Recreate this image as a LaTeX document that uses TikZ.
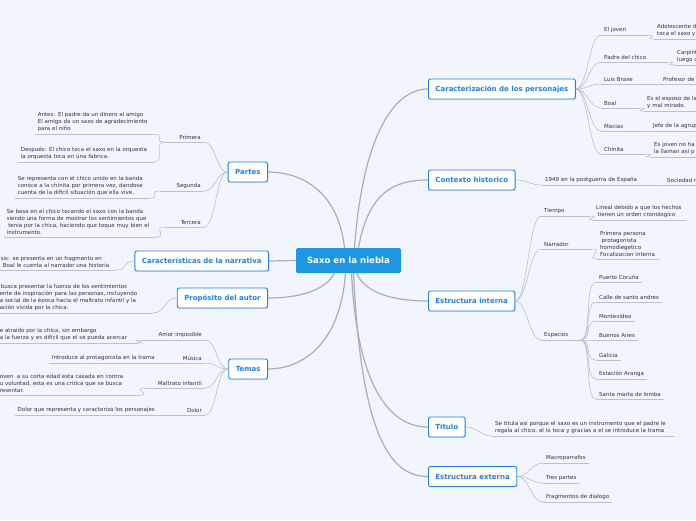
\documentclass[tikz,border=0pt]{standalone}
\usepackage{fontspec}
\setmainfont{DejaVu Sans}
\usetikzlibrary{shadows}
\definecolor{bgc}{RGB}{243,245,252}
\definecolor{lnc}{RGB}{190,192,198}
\definecolor{trc}{RGB}{172,174,180}
\definecolor{topicc}{RGB}{36,128,220}
\definecolor{cenc}{RGB}{30,150,226}
\definecolor{leafc}{RGB}{50,50,55}
\tikzset{
  cen/.style={fill=cenc,text=white,font=\fontsize{8.6}{10}\selectfont\bfseries,rounded corners=1.5pt,minimum width=105pt,minimum height=25pt},
  topic/.style={draw=topicc,fill=white,line width=0.9pt,text=topicc,font=\fontsize{7}{8.5}\selectfont\bfseries,rounded corners=2pt,minimum height=20pt,inner xsep=7pt,drop shadow={shadow xshift=0.4pt,shadow yshift=-0.8pt,opacity=0.2}},
  lnk/.style={draw=lnc,line width=0.6pt},
  trunk/.style={draw=trc,line width=1.2pt},
  leaf/.style={text=leafc,font=\fontsize{5.5}{7}\selectfont,align=left,inner xsep=3pt,inner ysep=2.3pt,append after command={(\tikzlastnode.south west) edge[lnk] (\tikzlastnode.south east)}},
  rb/.style={to path={.. controls +(12,0) and +(-12,0) .. (\tikztotarget)}},
  lb/.style={to path={.. controls +(-12,0) and +(12,0) .. (\tikztotarget)}},
}
\begin{document}
\begin{tikzpicture}[x=1pt,y=-1pt]
\fill[bgc](0,0)rectangle(696,520);\useasboundingbox(0,0)rectangle(696,520);
% main topics
\node[cen](cen)at(348.5,260.5){Saxo en la niebla};
\node[topic,anchor=west](car)at(428,89){Caracterización de los personajes};
\node[topic,anchor=west](ctx)at(428,180){Contexto historico};
\node[topic,anchor=west](ein)at(428,301){Estructura interna};
\node[topic,anchor=west](tit)at(428,427){Titulo};
\node[topic,anchor=west](eex)at(428,476.5){Estructura externa};
\node[topic,anchor=east](par)at(268,172){Partes};
\node[topic,anchor=east](nar)at(269,261){Características de la narrativa};
\node[topic,anchor=east](pro)at(268,298){Propósito del autor};
\node[topic,anchor=east](tem)at(268,369){Temas};
\draw[trunk]([xshift=6pt]cen.north)..controls +(8,-110) and +(-35,0)..(car.west);
\draw[trunk]([xshift=10pt]cen.north)..controls +(10,-55) and +(-35,0)..(ctx.west);
\draw[trunk]([xshift=-4pt]cen.north)..controls +(-6,-55) and +(35,0)..(par.east);
\draw[trunk](cen.west)--(nar.east);
\draw[trunk]([xshift=-14pt]cen.south)..controls +(-10,18) and +(30,0)..(pro.east);
\draw[trunk]([xshift=-3pt]cen.south)..controls +(-5,70) and +(35,0)..(tem.east);
\draw[trunk]([xshift=8pt]cen.south)..controls +(10,22) and +(-30,0)..(ein.west);
\draw[trunk]([xshift=3pt]cen.south)..controls +(6,120) and +(-35,0)..(tit.west);
\draw[trunk]([xshift=5pt]cen.south)..controls +(8,170) and +(-35,0)..(eex.west);
% Caracterizacion de los personajes
\node[leaf,anchor=south west,text width=41pt](joven)at(601,35){El joven};
\node[leaf,anchor=south west,text width=60pt](joven2)at(654,39){Adolescente d\\toca el saxo y};
\node[leaf,anchor=south west,text width=61pt](padre)at(601,62){Padre del chico};
\node[leaf,anchor=south west,text width=40pt](padre2)at(674,65){Carpint\\luego c};
\node[leaf,anchor=south west,text width=48pt](luis)at(601,84){Luis Braxe};
\node[leaf,anchor=south west,text width=50pt](luis2)at(660,84){Profesor de};
\node[leaf,anchor=south west,text width=33pt](boal)at(601,108){Boal};
\node[leaf,anchor=south west,text width=60pt](boal2)at(644,111){Es el esposo de la\\y mal mirado.};
\node[leaf,anchor=south west,text width=38pt](macias)at(601,131){Macias};
\node[leaf,anchor=south west,text width=60pt](macias2)at(650,131){Jefe de la agrup};
\node[leaf,anchor=south west,text width=39pt](chinita)at(601,154){Chinita};
\node[leaf,anchor=south west,text width=60pt](chinita2)at(651,157){Es joven no ha\\la llaman así p};
\foreach \n in {joven,padre,luis,boal,macias,chinita}{
  \draw[lnk](car.east)to[rb](\n.south west);\draw[lnk](\n.south east)to[rb](\n2.south west);}
% Contexto historico
\node[leaf,anchor=south west,text width=110pt](epoca)at(542,185){1949 en la postguerra de España};
\node[leaf,anchor=south west,text width=40pt](epoca2)at(664,185){Sociedad r};
\draw[lnk](ctx.east)to[rb](epoca.south west);\draw[lnk](epoca.south east)to[rb](epoca2.south west);
% Estructura interna
\node[leaf,anchor=south west,text width=43pt](tiempo)at(541,216){Tiempo};
\node[leaf,anchor=south west,text width=87pt](tiempo2)at(593,220){Lineal debido a que los hechos\\\hspace*{1.5pt}tienen un orden cronologico};
\node[leaf,anchor=south west,text width=45pt](narrador)at(541,249){Narrador};
\node[leaf,anchor=south west,text width=57pt](narrador2)at(597,259){Primera persona\\\hspace*{1.5pt}protagonista\\homodiegetico\\Focalizacion interna};
\node[leaf,anchor=south west,text width=33pt](esp)at(541,340){Espacios};
\foreach \n in {tiempo,narrador}{
  \draw[lnk](ein.east)to[rb](\n.south west);\draw[lnk](\n.south east)to[rb](\n2.south west);}
\draw[lnk](ein.east)to[rb](esp.south west);
\node[leaf,anchor=south west](esp1)at(596,282){Puerto Coruña};
\node[leaf,anchor=south west](esp2)at(596,302){Calle de santo andres};
\node[leaf,anchor=south west](esp3)at(596,321){Montevideo};
\node[leaf,anchor=south west](esp4)at(596,340){Buenos Aires};
\node[leaf,anchor=south west](esp5)at(596,360){Galicia};
\node[leaf,anchor=south west](esp6)at(596,379){Estación Aranga};
\node[leaf,anchor=south west](esp7)at(596,399){Santa marta de lomba};
\foreach \i in {1,...,7}{\draw[lnk](esp.south east)to[rb](esp\i.south west);}
% Titulo
\node[leaf,anchor=south west,text width=176pt](tit2)at(492,436){Se titula así porque el saxo es un instrumento que el padre le\\regala al chico, el lo toca y gracias a el se introduce la trama};
\draw[lnk](tit.east)to[rb](tit2.south west);
% Estructura externa
\node[leaf,anchor=south west](macro)at(543,463){Macroparrafos};
\node[leaf,anchor=south west](tres)at(543,483){Tres partes};
\node[leaf,anchor=south west](frag)at(543,502){Fragmentos de dialogo};
\foreach \n in {macro,tres,frag}{\draw[lnk](eex.east)to[rb](\n.south west);}
% Partes
\node[leaf,anchor=south east,text width=33pt,align=right](primera)at(204,142){Primera};
\node[leaf,anchor=south east,text width=113pt](antes)at(154,134){Antes: El padre da un dinero al amigo\\El amigo da un saxo de agradecimiento\\para el niño};
\node[leaf,anchor=south east,text width=130pt](despues)at(154,162){Después: El chico toca el saxo en la orquesta\\la orquesta toca en una fabrica.};
\node[leaf,anchor=south east,text width=38pt,align=right](segunda)at(204,191){Segunda};
\node[leaf,anchor=south east,text width=129pt](segunda2)at(150,198){Se representa con el chico unido en la banda\\conoce a la chinita por primera vez, dandose\\cuenta de la dificil situación que ella vive.};
\node[leaf,anchor=south east,text width=33pt,align=right](tercera)at(204,227){Tercera};
\node[leaf,anchor=south east,text width=146pt](tercera2)at(156,237){Se basa en el chico tocando el saxo con la banda\\siendo una forma de mostrar los sentimientos que\\\hspace*{1.5pt}tenia por la chica, haciendo que toque muy bien el\\instrumento.};
\foreach \n in {primera,segunda,tercera}{\draw[lnk](par.west)to[lb](\n.south east);}
\draw[lnk](primera.south west)to[lb](antes.south east);\draw[lnk](primera.south west)to[lb](despues.south east);
\draw[lnk](segunda.south west)to[lb](segunda2.south east);\draw[lnk](tercera.south west)to[lb](tercera2.south east);
% Caracteristicas de la narrativa
\node[leaf,anchor=south east,text width=112pt](nar2)at(116,270){sis: se presenta en un fragmento en\\\hspace*{2pt}Boal le cuenta al narrador una historia};
\draw[lnk](nar.west)to[lb](nar2.south east);
% Proposito del autor
\node[leaf,anchor=south east,text width=150pt](pro2)at(153,313){\hspace*{1pt}busca presentar la fuerza de los sentimientos\\ente de inspiración para las personas, incluyendo\\a social de la época hacia el maltrato infantil y la\\ación vivida por la chica.};
\draw[lnk](pro.west)to[lb](pro2.south east);
% Temas
\node[leaf,anchor=south east,text width=59pt,align=right](amor)at(205,340){Amor imposible};
\node[leaf,anchor=south east,text width=135pt](amor2)at(138,343){e atraído por la chica, sin embargo\\a la fuerza y es difícil que el se pueda acercar};
\node[leaf,anchor=south east,text width=39pt,align=right](musica)at(205,363){Música};
\node[leaf,anchor=south east](musica2)at(158,363){Introduce al protagonista en la trama};
\node[leaf,anchor=south east,text width=54pt,align=right](maltrato)at(205,388){Maltrato infantil};
\node[leaf,anchor=south east,text width=137pt](maltrato2)at(140,395){oven\ \ a su corta edad esta casada en contra\\u voluntad, esta es una critica que se busca\\resentar.};
\node[leaf,anchor=south east,text width=39pt,align=right](dolor)at(205,415){Dolor};
\node[leaf,anchor=south east](dolor2)at(158,415){Dolor que representa y caracteriza los personajes};
\foreach \n in {amor,musica,maltrato,dolor}{
  \draw[lnk](tem.west)to[lb](\n.south east);\draw[lnk](\n.south west)to[lb](\n2.south east);}
\end{tikzpicture}
\end{document}
